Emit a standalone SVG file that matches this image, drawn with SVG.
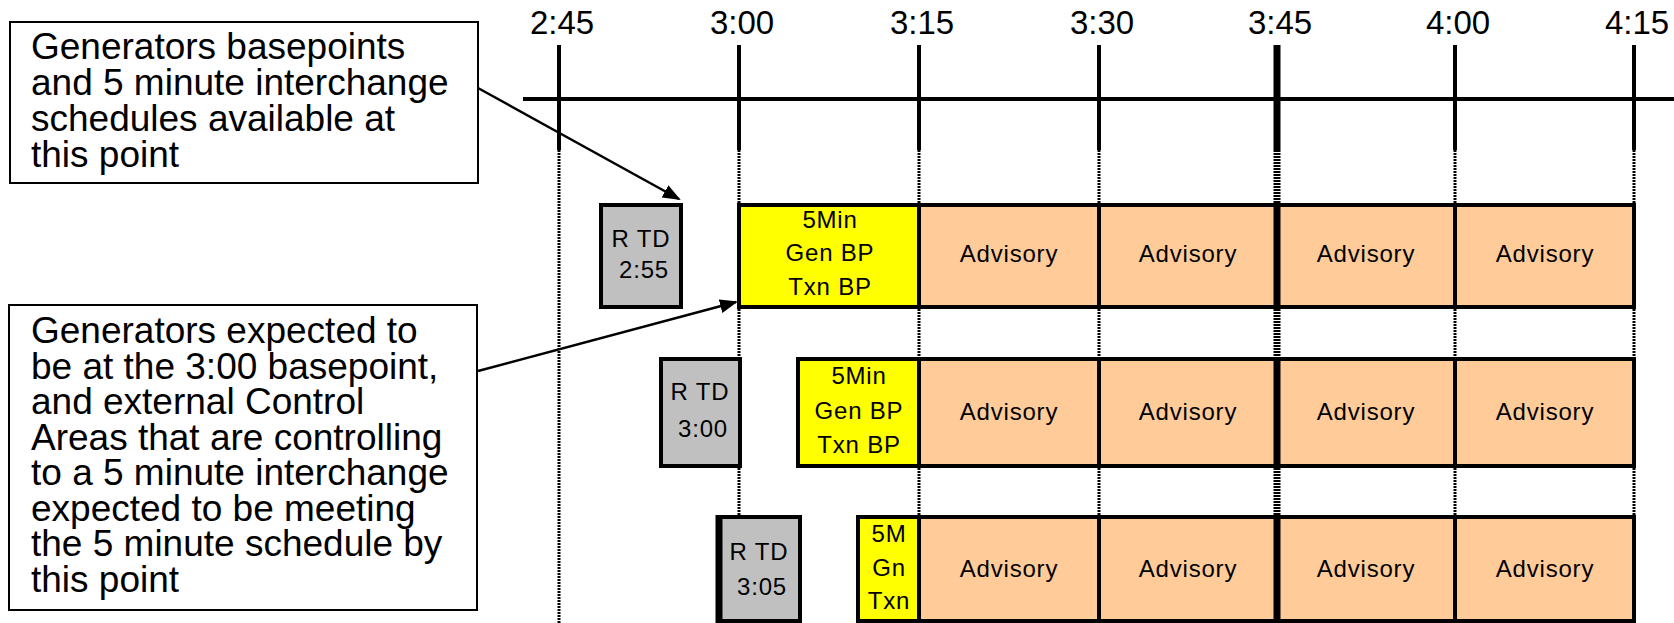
<svg xmlns="http://www.w3.org/2000/svg" width="1674" height="623" viewBox="0 0 1674 623">
<style>
.lbl{font-family:"Liberation Sans",Arial,sans-serif;font-size:33px;fill:#000;text-anchor:middle}
.note{font-family:"Liberation Sans",Arial,sans-serif;font-size:37px;fill:#000}
.t{font-family:"Liberation Sans",Arial,sans-serif;font-size:24px;fill:#000;text-anchor:middle;letter-spacing:0.8px}
.nbox{fill:#fff;stroke:#000;stroke-width:2}
.rtd{fill:#C0C0C0;stroke:#000;stroke-width:4}
.bp{fill:#FFFF00;stroke:#000;stroke-width:4}
.adv{fill:#FFCC99;stroke:#000;stroke-width:4}
.tick{stroke:#000;stroke-width:4}
.tickb{stroke:#000;stroke-width:7}
.dot{stroke:#000;stroke-width:3;stroke-dasharray:2 1}
.dotb{stroke:#000;stroke-width:7;stroke-dasharray:2 1}
.conn{stroke:#000;stroke-width:2.5;fill:none;marker-end:url(#ah)}
</style>
<defs>
<marker id="ah" viewBox="0 0 18 14" refX="16" refY="7" markerWidth="18" markerHeight="14" markerUnits="userSpaceOnUse" orient="auto">
<path d="M0,0 L18,7 L0,14 z" fill="#000"/>
</marker>
</defs>
<rect width="1674" height="623" fill="#fff"/>

<g id="timeline">
<line class="tick" x1="523" y1="99" x2="1674" y2="99"/>
<line class="tick" x1="559" y1="45" x2="559" y2="150"/>
<line class="tick" x1="739" y1="45" x2="739" y2="150"/>
<line class="tick" x1="919" y1="45" x2="919" y2="150"/>
<line class="tick" x1="1099" y1="45" x2="1099" y2="150"/>
<line class="tickb" x1="1277" y1="45" x2="1277" y2="150"/>
<line class="tick" x1="1455" y1="45" x2="1455" y2="150"/>
<line class="tick" x1="1634" y1="45" x2="1634" y2="150"/>
<line class="dot" x1="559" y1="150" x2="559" y2="623"/>
<line class="dot" x1="739" y1="150" x2="739" y2="623"/>
<line class="dot" x1="919" y1="150" x2="919" y2="623"/>
<line class="dot" x1="1099" y1="150" x2="1099" y2="623"/>
<line class="dotb" x1="1277" y1="150" x2="1277" y2="623"/>
<line class="dot" x1="1455" y1="150" x2="1455" y2="623"/>
<line class="dot" x1="1634" y1="150" x2="1634" y2="623"/>
<text class="lbl" x="562" y="34">2:45</text>
<text class="lbl" x="742" y="34">3:00</text>
<text class="lbl" x="922" y="34">3:15</text>
<text class="lbl" x="1102" y="34">3:30</text>
<text class="lbl" x="1280" y="34">3:45</text>
<text class="lbl" x="1458" y="34">4:00</text>
<text class="lbl" x="1637" y="34">4:15</text>
</g>

<g id="note1">
<rect class="nbox" x="10" y="22" width="468" height="161"/>
<text class="note" x="31" y="59">Generators basepoints</text>
<text class="note" x="31" y="95">and 5 minute interchange</text>
<text class="note" x="31" y="131">schedules available at</text>
<text class="note" x="31" y="167">this point</text>
</g>

<g id="note2">
<rect class="nbox" x="9" y="305" width="468" height="305"/>
<text class="note" x="31" y="343">Generators expected to</text>
<text class="note" x="31" y="379">be at the 3:00 basepoint,</text>
<text class="note" x="31" y="414">and external Control</text>
<text class="note" x="31" y="450">Areas that are controlling</text>
<text class="note" x="31" y="485">to a 5 minute interchange</text>
<text class="note" x="31" y="521">expected to be meeting</text>
<text class="note" x="31" y="556">the 5 minute schedule by</text>
<text class="note" x="31" y="592">this point</text>
</g>

<g id="row1">
<g id="rtd-255">
<rect class="rtd" x="601" y="205" width="80" height="102"/>
<text class="t" x="641" y="247">R TD</text>
<text class="t" x="644" y="278">2:55</text>
</g>
<g id="bp1">
<rect class="bp" x="739" y="205" width="180" height="102"/>
<text class="t" x="830" y="228">5Min</text>
<text class="t" x="830" y="261">Gen BP</text>
<text class="t" x="830" y="295">Txn BP</text>
</g>
<g id="adv1a"><rect class="adv" x="919" y="205" width="180" height="102"/><text class="t" x="1009" y="262">Advisory</text></g>
<g id="adv1b"><rect class="adv" x="1099" y="205" width="178" height="102"/><text class="t" x="1188" y="262">Advisory</text></g>
<g id="adv1c"><rect class="adv" x="1277" y="205" width="178" height="102"/><text class="t" x="1366" y="262">Advisory</text></g>
<g id="adv1d"><rect class="adv" x="1455" y="205" width="179" height="102"/><text class="t" x="1545" y="262">Advisory</text></g>
<line class="tickb" x1="1277" y1="205" x2="1277" y2="307"/>
</g>

<g id="row2">
<g id="rtd-300">
<rect class="rtd" x="661" y="359" width="79" height="107"/>
<text class="t" x="700" y="400">R TD</text>
<text class="t" x="703" y="437">3:00</text>
</g>
<g id="bp2">
<rect class="bp" x="798" y="359" width="121" height="107"/>
<text class="t" x="859" y="384">5Min</text>
<text class="t" x="859" y="419">Gen BP</text>
<text class="t" x="859" y="453">Txn BP</text>
</g>
<g id="adv2a"><rect class="adv" x="919" y="359" width="180" height="107"/><text class="t" x="1009" y="420">Advisory</text></g>
<g id="adv2b"><rect class="adv" x="1099" y="359" width="178" height="107"/><text class="t" x="1188" y="420">Advisory</text></g>
<g id="adv2c"><rect class="adv" x="1277" y="359" width="178" height="107"/><text class="t" x="1366" y="420">Advisory</text></g>
<g id="adv2d"><rect class="adv" x="1455" y="359" width="179" height="107"/><text class="t" x="1545" y="420">Advisory</text></g>
<line class="tickb" x1="1277" y1="359" x2="1277" y2="466"/>
</g>

<g id="row3">
<g id="rtd-305">
<rect class="rtd" x="718" y="517" width="82" height="104"/>
<line x1="719" y1="515" x2="719" y2="623" stroke="#000" stroke-width="7"/>
<text class="t" x="759" y="560">R TD</text>
<text class="t" x="762" y="595">3:05</text>
</g>
<g id="bp3">
<rect class="bp" x="858" y="517" width="61" height="104"/>
<text class="t" x="889" y="542">5M</text>
<text class="t" x="889" y="576">Gn</text>
<text class="t" x="889" y="609">Txn</text>
</g>
<g id="adv3a"><rect class="adv" x="919" y="517" width="180" height="104"/><text class="t" x="1009" y="577">Advisory</text></g>
<g id="adv3b"><rect class="adv" x="1099" y="517" width="178" height="104"/><text class="t" x="1188" y="577">Advisory</text></g>
<g id="adv3c"><rect class="adv" x="1277" y="517" width="178" height="104"/><text class="t" x="1366" y="577">Advisory</text></g>
<g id="adv3d"><rect class="adv" x="1455" y="517" width="179" height="104"/><text class="t" x="1545" y="577">Advisory</text></g>
<line class="tickb" x1="1277" y1="517" x2="1277" y2="623"/>
</g>

<g id="connectors">
<line class="conn" x1="478" y1="88" x2="679" y2="199"/>
<line class="conn" x1="478" y1="371" x2="736" y2="302"/>
</g>
</svg>
